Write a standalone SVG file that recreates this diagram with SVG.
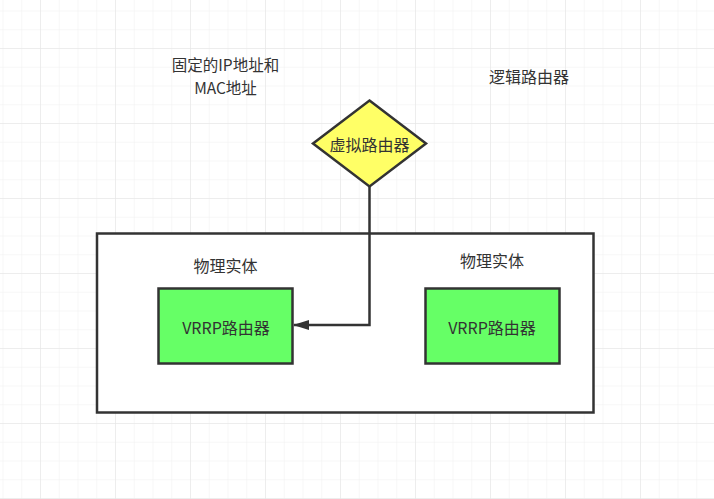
<svg xmlns="http://www.w3.org/2000/svg" width="714" height="499" viewBox="0 0 714 499">
<defs>
<pattern id="minor" x="2.5" y="10.5" width="18.75" height="18.75" patternUnits="userSpaceOnUse">
<path d="M0 0H18.75M0 0V18.75" fill="none" stroke="#f0f0f0" stroke-width="1"/>
</pattern>
<pattern id="major" x="40" y="48" width="75" height="75" patternUnits="userSpaceOnUse">
<path d="M0 0H75M0 0V75" fill="none" stroke="#e4e4e4" stroke-width="1"/>
</pattern>
<marker id="arrow" viewBox="0 0 16 10" refX="15" refY="5" markerWidth="16" markerHeight="10" markerUnits="userSpaceOnUse" orient="auto">
<path d="M0 0L16 5L0 10Z" fill="#333333"/>
</marker>
</defs>
<style>
text{font-family:"Noto Sans CJK SC","Microsoft YaHei",sans-serif;font-size:16px;fill:#333333;text-anchor:middle;dominant-baseline:central}
.two{font-size:15.5px}
.shape{stroke:#333333;stroke-width:2.5}
.green{fill:#66ff66}
</style>
<rect width="714" height="499" fill="#ffffff"/>
<rect width="714" height="499" fill="url(#minor)"/>
<rect width="714" height="499" fill="url(#major)"/>
<g id="label-fixed">
<text class="two" x="225.5" y="64">固定的IP地址和</text>
<text class="two" x="225.5" y="86.5">MAC地址</text>
</g>
<g id="label-logic">
<text x="529" y="75.5">逻辑路由器</text>
</g>
<g id="container">
<rect class="shape" x="97" y="233.5" width="496.5" height="179" fill="#ffffff"/>
</g>
<g id="label-phys1"><text x="225.5" y="265">物理实体</text></g>
<g id="label-phys2"><text x="492" y="259.5">物理实体</text></g>
<g id="vrrp1">
<rect class="shape green" x="158.5" y="288.5" width="134" height="75"/>
<text x="226" y="326.5">VRRP路由器</text>
</g>
<g id="vrrp2">
<rect class="shape green" x="425.5" y="288.5" width="134" height="75"/>
<text x="492" y="326.5">VRRP路由器</text>
</g>
<g id="connectors">
<path d="M369.5 187V325H294" fill="none" stroke="#333333" stroke-width="2.5" marker-end="url(#arrow)"/>
</g>
<g id="virtual">
<path class="shape" d="M369.5 100.5L426 143.5L369.5 186.5L313 143.5Z" fill="#ffff66"/>
<text x="369.5" y="143.5">虚拟路由器</text>
</g>
</svg>
